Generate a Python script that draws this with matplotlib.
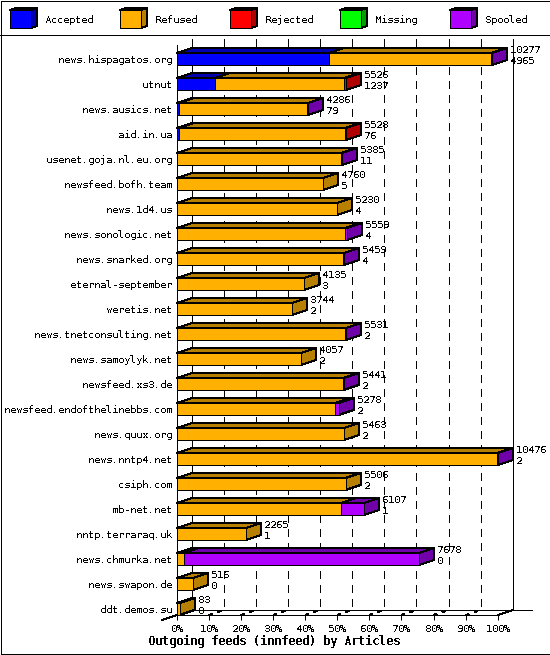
import matplotlib
matplotlib.use('Agg')
import matplotlib.pyplot as plt
from matplotlib.patches import Polygon, Rectangle

plt.rcParams['font.family'] = ['DejaVu Sans Mono', 'Liberation Mono']
plt.rcParams['text.antialiased'] = False
plt.rcParams['text.hinting'] = 'native'
plt.rcParams['text.hinting_factor'] = 1

hosts = ['news.hispagatos.org', 'utnut', 'news.ausics.net', 'aid.in.ua', 'usenet.goja.nl.eu.org',
         'newsfeed.bofh.team', 'news.1d4.us', 'news.sonologic.net', 'news.snarked.org',
         'eternal-september', 'weretis.net', 'news.tnetconsulting.net', 'news.samoylyk.net',
         'newsfeed.xs3.de', 'newsfeed.endofthelinebbs.com', 'news.quux.org', 'news.nntp4.net',
         'csiph.com', 'mb-net.net', 'nntp.terraraq.uk', 'news.chmurka.net', 'news.swapon.de',
         'ddt.demos.su']
totals = [10277, 5526, 4286, 5528, 5385, 4760, 5230, 5559, 5459, 4135, 3744, 5531, 4057,
          5441, 5278, 5463, 10476, 5506, 6107, 2265, 7678, 516, 83]
accepted = [4965, 1237, 79, 76, 11, 5, 4, 4, 4, 3, 2, 2, 2, 2, 2, 2, 2, 2, 1, 1, 0, 0, 0]
refused = [5292, 4219, 4197, 5422, 5364, 4755, 5226, 5490, 5440, 4132, 3742, 5514, 4055,
           5424, 5166, 5461, 10459, 5504, 5370, 2264, 215, 516, 83]
rejected = [0, 70, 0, 30, 0, 0, 0, 0, 0, 0, 0, 0, 0, 0, 0, 0, 0, 0, 0, 0, 0, 0, 0]
missing = [0] * 23
spooled = [20, 0, 10, 0, 10, 0, 0, 65, 15, 0, 0, 15, 0, 15, 110, 0, 15, 0, 736, 0, 7688, 0, 0]

series_names = ['Accepted', 'Refused', 'Rejected', 'Missing', 'Spooled']
series_values = [accepted, refused, rejected, missing, spooled]
front_colors = ['#0000ff', '#ffb000', '#ff0000', '#00ff00', '#b000ff']
dark_colors = ['#0000b0', '#b88000', '#b00000', '#00a000', '#7000a8']
pct_ticks = list(range(0, 101, 10))

W, H = 550, 655
X0, X100, Y_TOP, Y_BOT = 177, 497.7, 45, 615
ROW_PX = 25
scale_max = max(totals)
# 3d depth, in data units: 15px across, 5px up
DX = 15 * 100 / (X100 - X0)
DY = 5 / ROW_PX
HALF = 6 / ROW_PX
BLACK_LW = 0.72
FONT_PT = 7.2

fig = plt.figure(figsize=(W / 100, H / 100), dpi=100, facecolor='white')

# page furniture in pixel coordinates
page = fig.add_axes([0, 0, 1, 1])
page.set_xlim(0, W)
page.set_ylim(H, 0)
page.axis('off')
page.add_patch(Rectangle((0.5, 0.5), W - 1, H - 2, fill=False, ec='black', lw=BLACK_LW, antialiased=False))
page.plot([0, W], [35, 35], color='black', lw=BLACK_LW, antialiased=False)
for i, name in enumerate(series_names):
    x = 10 + 110 * i
    page.add_patch(Polygon([(x, 10), (x + 6, 8), (x + 27, 8), (x + 21, 10)], fc=dark_colors[i], ec='black', lw=BLACK_LW, antialiased=False))
    page.add_patch(Polygon([(x + 21, 10), (x + 27, 8), (x + 27, 26), (x + 21, 28)], fc=dark_colors[i], ec='black', lw=BLACK_LW, antialiased=False))
    page.add_patch(Rectangle((x, 10), 21, 18, fc=front_colors[i], ec='black', lw=BLACK_LW, antialiased=False))
    page.text(x + 35, 20, name, fontsize=FONT_PT, va='center', ha='left')
page.text(274.5, 641, 'Outgoing feeds (innfeed) by Articles', fontsize=8.4, fontweight='bold', ha='center', va='center')

ax = fig.add_axes([X0 / W, (H - Y_BOT) / H, (X100 - X0) / W, (Y_BOT - Y_TOP) / H])
ax.patch.set_alpha(0)
ax.set_xlim(0, 100)
rows = list(range(len(hosts)))
ax.set_ylim(rows[-1] + HALF + 0.0, (Y_TOP - 59) / ROW_PX)
for s in ['top', 'right']:
    ax.spines[s].set_visible(False)
for s in ['left', 'bottom']:
    ax.spines[s].set_linewidth(BLACK_LW)
    ax.spines[s].set_antialiased(False)
ax.set_yticks(rows)
ax.set_yticklabels(hosts, fontsize=FONT_PT)
ax.tick_params(axis='y', length=0, pad=3.6)
ax.set_xticks(pct_ticks)
ax.set_xticklabels([f'{p}%' for p in pct_ticks], fontsize=FONT_PT)
ax.tick_params(axis='x', length=3.6, width=BLACK_LW, pad=3.2)

# back wall grid
back_top, back_bot = -0.8, rows[-1] + HALF - DY
ax.plot([DX, DX], [back_top, back_bot], color='black', lw=BLACK_LW, clip_on=False, antialiased=False, zorder=1)
ax.plot([100 + DX, 100 + DX], [back_top, back_bot], color='black', lw=BLACK_LW, clip_on=False, antialiased=False, zorder=1)
ax.plot([0, 100 + DX + 19 * 100 / (X100 - X0)], [back_bot, back_bot], color='black', lw=BLACK_LW, clip_on=False, antialiased=False, zorder=1)
for p in pct_ticks[1:-1]:
    ax.plot([p + DX, p + DX], [back_top, back_bot], color='black', lw=BLACK_LW, dashes=(8, 6), clip_on=False, antialiased=False, zorder=1)
    ax.plot([p, p + DX], [back_bot + DY, back_bot], color='black', lw=BLACK_LW * 1.4, dashes=(2.5, 4), clip_on=False, antialiased=False, zorder=1)
ax.plot([100, 100 + DX], [back_bot + DY, back_bot], color='black', lw=BLACK_LW, clip_on=False, antialiased=False, zorder=1)
ax.plot([-DX, 0], [back_bot + 2 * DY, back_bot + DY], color='black', lw=BLACK_LW, clip_on=False, antialiased=False, zorder=1)

# stacked 3d bars
for r in rows:
    left = 0
    parts = [(j, vals[r]) for j, vals in enumerate(series_values) if vals[r] > 0]
    for n, (j, val) in enumerate(parts):
        a = left * 100 / scale_max
        b = (left + val) * 100 / scale_max
        top, bot = r - HALF, r + HALF
        style = dict(ec='black', lw=BLACK_LW, clip_on=False, antialiased=False, zorder=3)
        ax.add_patch(Polygon([(a, top), (a + DX, top - DY), (b + DX, top - DY), (b, top)], fc=dark_colors[j], **style))
        if n == len(parts) - 1:
            ax.add_patch(Polygon([(b, top), (b + DX, top - DY), (b + DX, bot - DY), (b, bot)], fc=dark_colors[j], **style))
        ax.add_patch(Polygon([(a, top), (b, top), (b, bot), (a, bot)], fc=front_colors[j], **style))
        left += val
    end = left * 100 / scale_max + DX
    ax.annotate(str(totals[r]), (end, r), xytext=(3, 9), textcoords='offset pixels', fontsize=FONT_PT, va='center', ha='left', annotation_clip=False, zorder=4)
    ax.annotate(str(accepted[r]), (end, r), xytext=(3, -2), textcoords='offset pixels', fontsize=FONT_PT, va='center', ha='left', annotation_clip=False, zorder=4)

fig.savefig('out.png', dpi=100)
